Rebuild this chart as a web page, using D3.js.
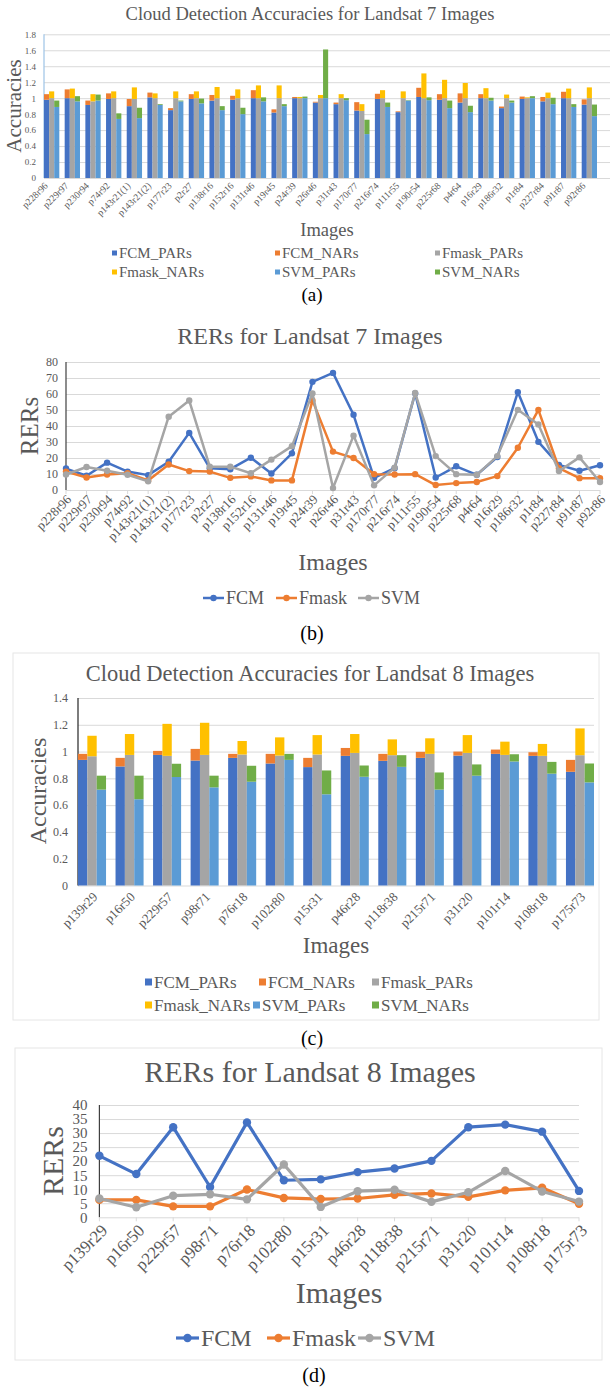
<!DOCTYPE html>
<html>
<head>
<meta charset="utf-8">
<script src="https://cdn.jsdelivr.net/npm/d3@7"></script>
<style>
body { margin: 0; background: #fff; }
svg, svg text { font-family: "Liberation Serif", "DejaVu Serif", "Times New Roman", Times, serif !important; }
</style>
</head>
<body>
<svg width="611" height="1389" font-family="Liberation Serif, DejaVu Serif, serif"></svg>
<script>
// ---- data ----
var l7Images = ["p228r96", "p229r97", "p230r94", "p74r92", "p143r21(1)", "p143r21(2)", "p177r23", "p2r27",
                "p138r16", "p152r16", "p131r46", "p19r45", "p24r39", "p26r46", "p31r43", "p170r77", "p216r74",
                "p111r55", "p190r54", "p225r68", "p4r64", "p16r29", "p186r32", "p1r84", "p227r84", "p91r87", "p92r86"];

var l7FcmPars   = [0.98, 1.0, 0.915, 0.99, 0.9, 1.01, 0.85, 0.99, 0.97, 0.98, 1.0, 0.82, 1.0, 0.945, 0.925, 0.845, 0.99, 0.825, 1.015, 0.98, 0.945, 1.0, 0.875, 0.99, 0.96, 1.0, 0.92];
var l7FcmNars   = [0.07, 0.11, 0.055, 0.07, 0.09, 0.06, 0.025, 0.06, 0.07, 0.05, 0.1, 0.04, 0.015, 0.01, 0.02, 0.105, 0.065, 0.01, 0.115, 0.07, 0.115, 0.05, 0.02, 0.03, 0.055, 0.08, 0.065];
var l7FmaskPars = [1.0, 1.0, 0.96, 1.0, 0.99, 1.0, 1.0, 1.0, 1.0, 1.0, 1.0, 1.0, 1.0, 1.0, 1.0, 0.84, 1.0, 1.0, 1.0, 1.0, 1.0, 1.0, 1.0, 1.0, 1.0, 1.0, 1.0];
var l7FmaskNars = [0.085, 0.12, 0.09, 0.085, 0.145, 0.06, 0.085, 0.085, 0.14, 0.11, 0.16, 0.16, 0.015, 0.04, 0.05, 0.085, 0.1, 0.085, 0.31, 0.23, 0.19, 0.125, 0.045, 0.01, 0.07, 0.12, 0.135];
var l7SvmPars   = [0.89, 0.96, 0.97, 0.74, 0.75, 0.915, 0.96, 0.935, 0.85, 0.8, 0.96, 0.9, 1.0, 1.0, 0.975, 0.55, 0.89, 0.97, 0.975, 0.875, 0.825, 0.97, 0.945, 1.0, 0.925, 0.89, 0.775];
var l7SvmNars   = [0.08, 0.065, 0.075, 0.07, 0.13, 0.01, 0.01, 0.06, 0.05, 0.08, 0.05, 0.025, 0.02, 0.61, 0.025, 0.18, 0.055, 0.005, 0.035, 0.095, 0.08, 0.035, 0.025, 0.025, 0.08, 0.035, 0.145];

var l7FcmRer   = [13.4, 8.9, 17.1, 11.5, 9.3, 17.7, 35.7, 13.6, 13, 20.2, 10.3, 22.9, 67.6, 73.2, 47, 7.6, 13.6, 60.4, 7.8, 14.8, 9.5, 20.6, 61.2, 30.1, 15.7, 12, 15.5];
var l7FmaskRer = [11.5, 7.8, 9.7, 10.5, 6, 15.9, 11.8, 11.5, 7.6, 8.5, 6, 6, 56, 24, 20, 9.9, 9.7, 9.9, 3.1, 4.3, 5, 8.7, 26.4, 50.1, 13.6, 7.4, 7.4];
var l7SvmRer   = [9.7, 14.4, 12, 9.5, 5.4, 45.8, 55.9, 14.6, 14.6, 10.5, 19, 27.4, 60.4, 1.2, 34, 2.9, 14, 60.6, 21.2, 9.9, 9.5, 21.2, 50.1, 41, 11.8, 20.4, 5];

var l8Images = ["p139r29", "p16r50", "p229r57", "p98r71", "p76r18", "p102r80", "p15r31", "p46r28", "p118r38",
                "p215r71", "p31r20", "p101r14", "p108r18", "p175r73"];

var l8FcmPars   = [0.938, 0.889, 0.975, 0.933, 0.953, 0.911, 0.884, 0.968, 0.931, 0.953, 0.97, 0.983, 0.968, 0.849];
var l8FcmNars   = [0.045, 0.064, 0.03, 0.087, 0.03, 0.072, 0.069, 0.059, 0.052, 0.045, 0.03, 0.032, 0.027, 0.089];
var l8FmaskPars = [0.965, 0.975, 0.968, 0.975, 0.978, 0.97, 0.978, 0.99, 0.973, 0.983, 0.99, 0.975, 0.968, 0.973];
var l8FmaskNars = [0.153, 0.156, 0.239, 0.24, 0.101, 0.136, 0.145, 0.141, 0.118, 0.116, 0.133, 0.099, 0.089, 0.2];
var l8SvmPars   = [0.716, 0.644, 0.81, 0.733, 0.775, 0.938, 0.681, 0.812, 0.886, 0.716, 0.82, 0.926, 0.835, 0.77];
var l8SvmNars   = [0.104, 0.176, 0.099, 0.087, 0.119, 0.045, 0.178, 0.084, 0.087, 0.128, 0.084, 0.054, 0.088, 0.141];

var l8FcmRer   = [21.9, 15.4, 32.1, 10.8, 33.8, 13.2, 13.5, 16.1, 17.4, 20.1, 32.1, 33, 30.5, 9.4];
var l8FmaskRer = [6.2, 6.2, 3.9, 3.9, 9.9, 6.9, 6.5, 6.7, 8, 8.5, 7.3, 9.6, 10.5, 4.8];
var l8SvmRer   = [6.7, 3.6, 7.7, 8.2, 6.4, 18.8, 3.7, 9.3, 9.8, 5.5, 8.9, 16.5, 9.2, 5.6];

var l7AccTicks = [0, 0.2, 0.4, 0.6, 0.8, 1, 1.2, 1.4, 1.6, 1.8];
var l7RerTicks = [0, 10, 20, 30, 40, 50, 60, 70, 80];
var l8AccTicks = [0, 0.2, 0.4, 0.6, 0.8, 1, 1.2, 1.4];
var l8RerTicks = [0, 5, 10, 15, 20, 25, 30, 35, 40];

var methods = ["FCM", "Fmask", "SVM"];
var barLegend = ["FCM_PARs", "FCM_NARs", "Fmask_PARs", "Fmask_NARs", "SVM_PARs", "SVM_NARs"];

// ---- style ----
var parColors = ["#4472c4", "#a5a5a5", "#5b9bd5"];
var narColors = ["#ed7d31", "#ffc000", "#70ad47"];
var lineColors = ["#4472c4", "#ed7d31", "#a5a5a5"];
var barLegendColors = ["#4472c4", "#ed7d31", "#a5a5a5", "#ffc000", "#5b9bd5", "#70ad47"];
var textGray = "#595959";
var gridGray = "#d9d9d9";
var serif = "Liberation Serif, DejaVu Serif, serif";

var svg = d3.select("svg");

function label(x, y, s, size, fill, rotate) {
	var t = svg.append("text")
	.attr("text-anchor", "middle")
	.attr("font-family", serif)
	.attr("font-size", size + "px")
	.attr("fill", fill || textGray)
	.text(s);
	if (rotate) {
		t.attr("transform", "translate(" + x + "," + y + ") rotate(-90)").attr("dy", "0.35em");
	} else {
		t.attr("x", x).attr("y", y);
	}
	return t;
}

function yGrid(y, o) {
	svg.append("g")
	.attr("transform", "translate(" + o.left + ",0)")
	.call(d3.axisLeft(y).tickValues(o.ticks).tickSize(-(o.gridRight - o.left))
		.tickPadding(o.tickPad).tickFormat(function (d) { return String(+d.toFixed(1)); }))
	.attr("font-family", serif)
	.call(function (g) { g.select(".domain").remove(); })
	.call(function (g) { g.selectAll(".tick line").attr("stroke", gridGray); })
	.call(function (g) { g.selectAll(".tick text").attr("font-size", o.tickFont + "px").attr("fill", textGray); });

	svg.append("line")
	.attr("x1", o.left).attr("x2", o.left)
	.attr("y1", o.top).attr("y2", o.bottom)
	.style("stroke", o.axisColor)
	.style("stroke-width", 1.2);
}

function xLabels(cats, xpos, o) {
	svg.append("g").selectAll("text")
	.data(cats)
	.join("text")
	.attr("transform", function (d) { return "translate(" + (xpos(d) + o.labelDx) + "," + (o.bottom + o.labelDy) + ") rotate(-45)"; })
	.attr("text-anchor", "end")
	.attr("dy", "0.35em")
	.attr("font-family", serif)
	.attr("font-size", o.labelFont + "px")
	.attr("fill", textGray)
	.text(function (d) { return d; });
}

function barPanel(o) {
	var y = d3.scaleLinear().domain([0, o.yMax]).range([o.bottom, o.top]);
	var x = d3.scaleBand().domain(o.cats).range([o.left, o.barsRight]).paddingInner(o.gap).paddingOuter(0);
	var sub = d3.scaleBand().domain(methods).range([0, x.bandwidth()]);

	yGrid(y, o);

	methods.forEach(function (m, k) {
		var pars = o.pars[k], nars = o.nars[k];
		svg.append("g").selectAll("rect")
		.data(o.cats)
		.join("rect")
		.attr("x", function (d) { return x(d) + sub(m); })
		.attr("width", sub.bandwidth())
		.attr("y", function (d, i) { return y(pars[i]); })
		.attr("height", function (d, i) { return y(0) - y(pars[i]); })
		.attr("fill", parColors[k]);

		svg.append("g").selectAll("rect")
		.data(o.cats)
		.join("rect")
		.attr("x", function (d) { return x(d) + sub(m); })
		.attr("width", sub.bandwidth())
		.attr("y", function (d, i) { return y(pars[i] + nars[i]); })
		.attr("height", function (d, i) { return y(pars[i]) - y(pars[i] + nars[i]); })
		.attr("fill", narColors[k]);
	});

	xLabels(o.cats, function (d) { return x(d) + o.labelShift * x.bandwidth(); }, o);

	// legend, two rows of three
	barLegend.forEach(function (name, i) {
		var col = i % 3, row = Math.floor(i / 3);
		var lx = o.legendX[row][col], ly = o.legendY[row];
		svg.append("rect")
		.attr("x", lx).attr("y", ly - o.legendBox / 2)
		.attr("width", o.legendBox).attr("height", o.legendBox)
		.attr("fill", barLegendColors[i]);
		svg.append("text")
		.attr("x", lx + o.legendBox + 2).attr("y", ly)
		.attr("dy", "0.35em")
		.attr("font-family", serif)
		.attr("font-size", o.legendFont + "px")
		.attr("fill", textGray)
		.text(name);
	});
}

function linePanel(o) {
	var y = d3.scaleLinear().domain([0, o.yMax]).range([o.bottom, o.top]);
	var x = d3.scalePoint().domain(o.cats).range([o.left, o.gridRight]);

	yGrid(y, o);

	svg.append("g").selectAll("line")
	.data(o.cats)
	.join("line")
	.attr("x1", function (d) { return x(d); }).attr("x2", function (d) { return x(d); })
	.attr("y1", o.bottom).attr("y2", o.bottom + 4)
	.style("stroke", gridGray);

	methods.forEach(function (m, k) {
		var vals = o.series[k];
		var line = d3.line()
		.x(function (d, i) { return x(o.cats[i]); })
		.y(function (d) { return y(d); });

		svg.append("path")
		.attr("d", line(vals))
		.attr("fill", "none")
		.style("stroke", lineColors[k])
		.style("stroke-width", o.lineWidth)
		.style("stroke-linejoin", "round");

		svg.append("g").selectAll("circle")
		.data(vals)
		.join("circle")
		.attr("cx", function (d, i) { return x(o.cats[i]); })
		.attr("cy", function (d) { return y(d); })
		.attr("r", o.r)
		.attr("fill", lineColors[k]);
	});

	xLabels(o.cats, x, o);

	methods.forEach(function (m, k) {
		var lx = o.legendX[k];
		svg.append("line")
		.attr("x1", lx).attr("x2", lx + o.legendLine)
		.attr("y1", o.legendY).attr("y2", o.legendY)
		.style("stroke", lineColors[k])
		.style("stroke-width", o.lineWidth);
		svg.append("circle")
		.attr("cx", lx + o.legendLine / 2).attr("cy", o.legendY)
		.attr("r", o.r)
		.attr("fill", lineColors[k]);
		svg.append("text")
		.attr("x", lx + o.legendLine + 2).attr("y", o.legendY)
		.attr("dy", "0.35em")
		.attr("font-family", serif)
		.attr("font-size", o.legendFont + "px")
		.attr("fill", textGray)
		.text(m);
	});
}

// ---- (a) ----
label(310, 20, "Cloud Detection Accuracies for Landsat 7 Images", 18.5);
barPanel({
	cats: l7Images,
	pars: [l7FcmPars, l7FmaskPars, l7SvmPars],
	nars: [l7FcmNars, l7FmaskNars, l7SvmNars],
	ticks: l7AccTicks, yMax: 1.8,
	left: 44, barsRight: 597, gridRight: 610, top: 34.3, bottom: 178,
	gap: 0.26, tickFont: 9, tickPad: 8, axisColor: "#9dc3e6",
	labelFont: 9.5, labelShift: 0, labelDx: 2, labelDy: 6,
	legendX: [[112, 275, 435], [112, 275, 435]], legendY: [253, 272],
	legendBox: 5, legendFont: 15
});
label(14, 106, "Accuracies", 21, textGray, true);
label(327, 236, "Images", 18.5);
label(312, 301, "(a)", 19, "#000");

// ---- (b) ----
label(310, 344, "RERs for Landsat 7 Images", 24);
linePanel({
	cats: l7Images,
	series: [l7FcmRer, l7FmaskRer, l7SvmRer],
	ticks: l7RerTicks, yMax: 80,
	left: 66, gridRight: 600, top: 362, bottom: 490,
	tickFont: 12, tickPad: 8, axisColor: "#404040",
	lineWidth: 2.5, r: 3.2,
	labelFont: 13, labelDx: 3, labelDy: 7,
	legendX: [203, 276, 358], legendY: 598, legendLine: 21, legendFont: 18
});
label(29, 426, "RERs", 25, textGray, true);
label(333, 570, "Images", 24);
label(312, 640, "(b)", 20, "#000");

// ---- (c) ----
svg.append("rect")
.attr("x", 13).attr("y", 653).attr("width", 586).attr("height", 367)
.attr("fill", "none").style("stroke", "#e6e6e6");
label(310, 681, "Cloud Detection Accuracies for Landsat 8 Images", 22.5);
barPanel({
	cats: l8Images,
	pars: [l8FcmPars, l8FmaskPars, l8SvmPars],
	nars: [l8FcmNars, l8FmaskNars, l8SvmNars],
	ticks: l8AccTicks, yMax: 1.4,
	left: 78, barsRight: 594, gridRight: 594, top: 698, bottom: 885.5,
	gap: 0.253, tickFont: 12, tickPad: 10, axisColor: "#262626",
	labelFont: 13, labelShift: 0.5, labelDx: 3, labelDy: 9,
	legendX: [[145, 259, 372], [145, 253, 372]], legendY: [982, 1005],
	legendBox: 7, legendFont: 17
});
label(38, 791, "Accuracies", 24, textGray, true);
label(336, 953, "Images", 23);
label(312, 1045, "(c)", 20, "#000");

// ---- (d) ----
svg.append("rect")
.attr("x", 15).attr("y", 1048).attr("width", 587).attr("height", 312)
.attr("fill", "none").style("stroke", "#e6e6e6");
label(310, 1082, "RERs for Landsat 8 Images", 30);
linePanel({
	cats: l8Images,
	series: [l8FcmRer, l8FmaskRer, l8SvmRer],
	ticks: l8RerTicks, yMax: 40,
	left: 99.4, gridRight: 579, top: 1105, bottom: 1217.3,
	tickFont: 15, tickPad: 12, axisColor: "#404040",
	lineWidth: 3.2, r: 4.2,
	labelFont: 17, labelDx: 5, labelDy: 10,
	legendX: [176, 267, 358], legendY: 1338, legendLine: 23, legendFont: 24
});
label(52, 1161, "RERs", 30, textGray, true);
label(339, 1303, "Images", 30);
label(314, 1382, "(d)", 20, "#000");
</script>
</body>
</html>
